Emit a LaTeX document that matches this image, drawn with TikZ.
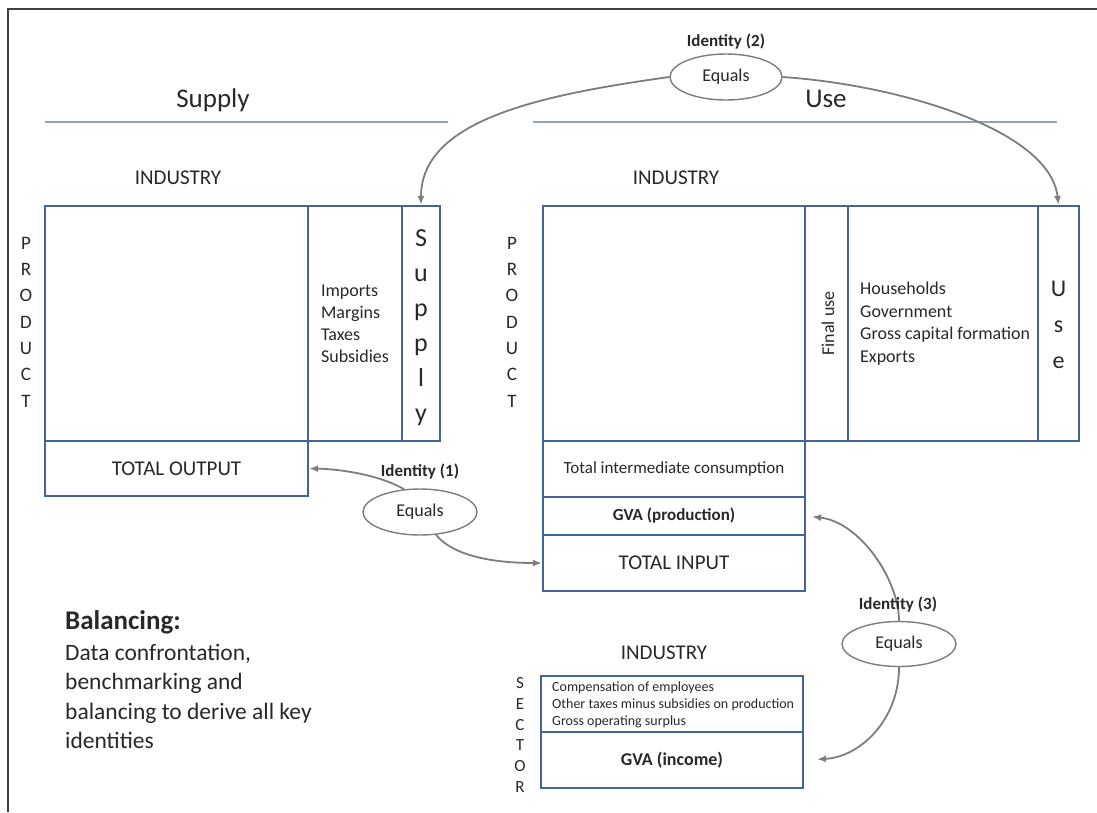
\documentclass[tikz,border=0pt]{standalone}
\usepackage{fontspec}
\setmainfont{Carlito}
\usetikzlibrary{shapes.geometric,arrows.meta}

\definecolor{boxblue}{RGB}{66,100,150}
\definecolor{rulegrey}{RGB}{145,163,186}
\definecolor{arrowgrey}{RGB}{125,125,125}
\definecolor{ink}{RGB}{40,40,40}

\tikzset{
  cell/.style={draw=boxblue, line width=2.2pt, inner sep=0pt},
  equals/.style={ellipse, draw=arrowgrey, line width=1.4pt, inner sep=0pt,
    minimum width=114pt, minimum height=46pt, font=\fontsize{18}{22}\selectfont},
  ident/.style={font=\bfseries\fontsize{17}{20}\selectfont},
  link/.style={draw=arrowgrey, line width=1.8pt, -{Latex[length=9pt,width=7pt]}},
  letters/.style={align=center, inner sep=0pt},
  title/.style={font=\fontsize{27}{32}\selectfont},
  industry/.style={font=\fontsize{21}{25}\selectfont}
}

\begin{document}
\begin{tikzpicture}[x=1pt,y=-1pt,text=ink]
      \useasboundingbox (0,0) rectangle (1097,812);
      \draw [line width=2pt, black!75] (8,812) -- (8,9) -- (1097,9);
      % headings
      \node [title] (suptitle) at (213,100) {Supply};
      \node [title] (usetitle) at (826,99) {Use};
      \draw [rulegrey, line width=2pt] (45,122) -- (448,122);
      \draw [rulegrey, line width=2pt] (533,122) -- (1057,122);
      % supply table
      \node [industry] (supind) at (178,178) {INDUSTRY};
      \node [letters, font=\fontsize{19}{26.3}\selectfont] (supprod) at (26,322) {P\\R\\O\\D\\U\\C\\T};
      \node [cell, minimum width=263pt, minimum height=235pt] (supmat) at (176.5,323.5) {};
      \node [cell, minimum width=94pt, minimum height=235pt, align=left,
        font=\fontsize{18}{22}\selectfont] (supadd) at (355,323.5) {Imports\\Margins\\Taxes\\Subsidies};
      \node [cell, minimum width=38pt, minimum height=235pt] (supcol) at (421,323.5) {};
      \node [letters, font=\fontsize{26}{35}\selectfont] (supword) at (421,328) {S\\u\\p\\p\\l\\y};
      \node [cell, minimum width=263pt, minimum height=55pt, font=\fontsize{21}{25}\selectfont] (totout) at (176.5,468.5) {TOTAL OUTPUT};
      % use table
      \node [industry] (useind) at (676,178) {INDUSTRY};
      \node [letters, font=\fontsize{19}{26.3}\selectfont] (useprod) at (512,322) {P\\R\\O\\D\\U\\C\\T};
      \node [cell, minimum width=262pt, minimum height=235pt] (usemat) at (674,323.5) {};
      \node [cell, minimum width=43pt, minimum height=235pt] (finuse) at (826.5,323.5) {};
      \node [rotate=90, inner sep=0pt, font=\fontsize{18}{22}\selectfont] (finusetext) at (828,323.5) {Final use};
      \node [cell, minimum width=190pt, minimum height=235pt] (usecomp) at (943,323.5) {};
      \node [anchor=west, align=left, inner sep=0pt, font=\fontsize{18}{22.5}\selectfont] (usecomptext) at (860,323.5)
        {Households\\Government\\Gross capital formation\\Exports};
      \node [cell, minimum width=41pt, minimum height=235pt] (usecol) at (1058.5,323.5) {};
      \node [letters, font=\fontsize{24}{36}\selectfont] (useword) at (1058.5,325) {U\\s\\e};
      \node [cell, minimum width=262pt, minimum height=56pt, font=\fontsize{17}{20}\selectfont] (tic) at (674,469) {Total intermediate consumption};
      \node [cell, minimum width=262pt, minimum height=38pt, font=\bfseries\fontsize{17}{20}\selectfont] (gvap) at (674,516) {GVA (production)};
      \node [cell, minimum width=262pt, minimum height=56pt, font=\fontsize{21}{25}\selectfont] (totin) at (674,563) {TOTAL INPUT};
      % income table
      \node [industry] (incind) at (664,653) {INDUSTRY};
      \node [letters, font=\fontsize{17}{20.8}\selectfont] (sector) at (520,735) {S\\E\\C\\T\\O\\R};
      \node [cell, minimum width=262pt, minimum height=56pt] (facts) at (672,704) {};
      \node [anchor=west, align=left, inner sep=0pt, font=\fontsize{14}{17}\selectfont] (factstext) at (552,705)
        {Compensation of employees\\Other taxes minus subsidies on production\\Gross operating surplus};
      \node [cell, minimum width=262pt, minimum height=56pt, font=\bfseries\fontsize{18}{22}\selectfont] (gvai) at (672,760) {GVA (income)};
      % identities
      \node [equals] (eq1) at (420,512) {Equals};
      \node [equals, minimum width=112pt] (eq2) at (726,77) {Equals};
      \node [equals, minimum height=45pt] (eq3) at (899,644) {Equals};
      \draw [link] (eq1.125) .. controls (380,475) and (340,469) .. (totout.east);
      \draw [link] (eq1.-55) .. controls (455,558) and (500,563) .. (totin.west);
      \draw [link] (eq2.west) .. controls (540,95) and (421,120) .. (supcol.north);
      \draw [link] (eq2.east) .. controls (900,85) and (1050,130) .. (usecol.north);
      \draw [link, shorten >=6pt] (eq3.north) .. controls (899,580) and (860,522) .. (gvap.east);
      \draw [link, shorten >=13pt] (eq3.south) .. controls (899,720) and (860,757) .. (gvai.east);
      \node [ident] (id1) at (420,472) {Identity (1)};
      \node [ident] (id2) at (726,42) {Identity (2)};
      \node [ident] (id3) at (898,605) {Identity (3)};
      % balancing note
      \node [anchor=base west, inner sep=0pt, font=\bfseries\fontsize{27}{32}\selectfont] (balhead) at (65,629) {Balancing:};
      \node [anchor=north west, inner sep=0pt, align=left, font=\fontsize{23.5}{29.5}\selectfont] (baltext) at (65,644)
        {Data confrontation,\\benchmarking and\\balancing to derive all key\\identities};
\end{tikzpicture}
\end{document}
